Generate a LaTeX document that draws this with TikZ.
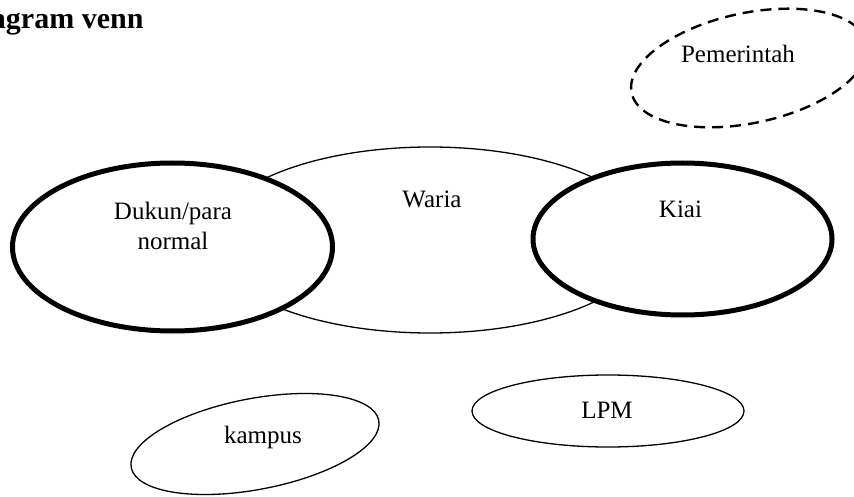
\documentclass[tikz,border=0pt]{standalone}
\usepackage{fontspec}
\setmainfont{Liberation Serif}
\usetikzlibrary{shapes.geometric}
\tikzset{
  blob/.style={ellipse, draw=black, fill=white, inner sep=0pt, outer sep=0pt},
  thinline/.style={blob, line width=1.3pt},
  thickline/.style={blob, line width=5pt},
  dashline/.style={ellipse, draw=black, inner sep=0pt, line width=2.4pt, dash pattern=on 11pt off 7pt},
  txt/.style={inner sep=0pt, outer sep=0pt, font=\fontsize{25}{30}\selectfont},
  ttl/.style={inner sep=0pt, outer sep=0pt, font=\fontsize{30}{36}\selectfont\bfseries}
}
\begin{document}
\begin{tikzpicture}[x=1pt,y=-1pt]
\useasboundingbox (0,0) rectangle (854,497);
\fill[white] (0,0) rectangle (854,497);
% title
\node (title) [ttl, anchor=base west] at (-39,29) {Diagram venn};
% Pemerintah (dashed)
\node (pem) [dashline, minimum width=240pt, minimum height=110pt, rotate=12] at (749,68) {};
% Waria
\node (waria) [thinline, minimum width=440pt, minimum height=186pt] at (430,240) {};
% Dukun
\node (dukun) [thickline, minimum width=320pt, minimum height=168pt] at (172.5,247) {};
% Kiai
\node (kiai) [thickline, minimum width=299pt, minimum height=152pt] at (682.5,239) {};
% kampus
\node (kampus) [thinline, minimum width=252pt, minimum height=91pt, rotate=10.75] at (255,444) {};
% LPM
\node (lpm) [thinline, minimum width=272pt, minimum height=72pt] at (608,411) {};
% texts
\node (pemtext) [txt, anchor=base] at (738,63) {Pemerintah};
\node (wariatext) [txt, anchor=base] at (432,208) {Waria};
\node (kiaitext) [txt, anchor=base] at (680.5,218) {Kiai};
\node (dukuntext) [txt, align=center, anchor=center] at (173,226) {Dukun/para\\normal};
\node (kampustext) [txt, anchor=base] at (263,443) {kampus};
\node (lpmtext) [txt, anchor=base] at (607,418) {LPM};
\end{tikzpicture}
\end{document}
